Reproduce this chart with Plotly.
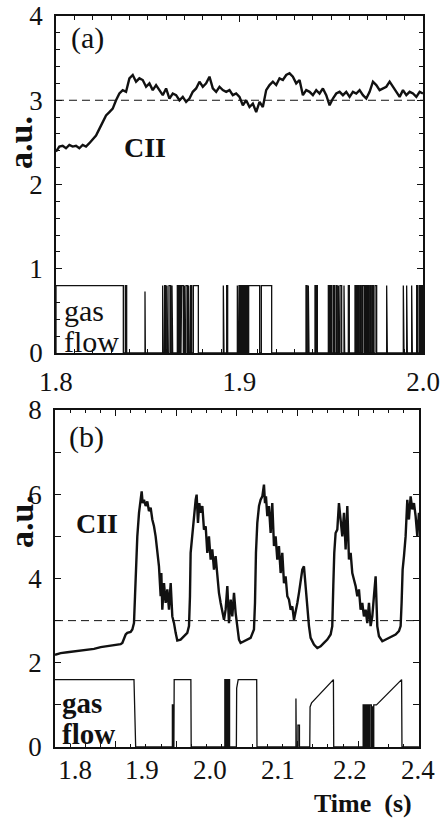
import plotly.graph_objects as go

# ---------------- data ----------------
# Panel (a): CII signal, sampled uniformly from 1.8 s to 2.0 s
cii_a_t0 = 1.8
cii_a_dt = 0.2 / 110
cii_a = [2.39, 2.45, 2.46, 2.43, 2.47, 2.45, 2.46, 2.43, 2.47, 2.45,
         2.49, 2.53, 2.58, 2.66, 2.74, 2.82, 2.86, 2.90, 3.00, 3.08,
         3.12, 3.10, 3.26, 3.30, 3.22, 3.26, 3.24, 3.16, 3.20, 3.12,
         3.18, 3.12, 3.06, 3.14, 3.02, 3.08, 3.06, 3.00, 3.04, 2.98,
         3.02, 3.10, 3.14, 3.22, 3.16, 3.20, 3.28, 3.14, 3.10, 3.16,
         3.12, 3.10, 3.12, 3.06, 3.08, 3.04, 2.94, 3.00, 2.92, 2.96,
         2.86, 2.98, 2.92, 3.12, 3.18, 3.22, 3.18, 3.26, 3.24, 3.30,
         3.32, 3.28, 3.20, 3.24, 3.06, 3.12, 3.10, 3.06, 3.12, 3.08,
         3.14, 3.06, 2.94, 3.02, 3.08, 3.10, 3.06, 3.10, 3.04, 3.10,
         3.08, 3.12, 3.06, 3.02, 3.10, 3.22, 3.18, 3.12, 3.14, 3.16,
         3.22, 3.16, 3.10, 3.04, 3.12, 3.06, 3.10, 3.08, 3.04, 3.10,
         3.08]

# Panel (a): gas valve pulses (start, end, level)
gas_a_start = [1.80000, 1.83778, 1.84850, 1.85813, 1.85922, 1.86049, 1.86158, 1.86322,
               1.86612, 1.86757, 1.86848, 1.86994, 1.87084, 1.87230, 1.87339, 1.87484,
               1.89119, 1.89301, 1.89882, 1.89973, 1.90082, 1.90209, 1.90318, 1.90427,
               1.90500, 1.91190, 1.93624, 1.93751, 1.94114, 1.94205, 1.94841, 1.94968,
               1.95114, 1.95259, 1.95386, 1.95477, 1.95695, 1.95931, 1.96294, 1.96421,
               1.96567, 1.96694, 1.96839, 1.96966, 1.97112, 1.97239, 1.97384, 1.98020,
               1.98928, 1.99110, 1.99382, 1.99655, 1.99800, 1.99927]
gas_a_end = [1.83669, 1.83851, 1.84870, 1.85849, 1.85976, 1.86085, 1.86249, 1.86358,
             1.86685, 1.86812, 1.86939, 1.87030, 1.87175, 1.87266, 1.87393, 1.87757,
             1.89155, 1.89355, 1.89918, 1.90027, 1.90154, 1.90263, 1.90390, 1.90445,
             1.91099, 1.91753, 1.93678, 1.93787, 1.94169, 1.94242, 1.94896, 1.95023,
             1.95168, 1.95313, 1.95422, 1.95568, 1.95731, 1.95985, 1.96349, 1.96494,
             1.96621, 1.96785, 1.96894, 1.97039, 1.97166, 1.97293, 1.97475, 1.98056,
             1.98965, 1.99146, 1.99419, 1.99710, 1.99873, 1.99982]
gas_a_level = [0.8] * 2 + [0.73] + [0.8] * 51

# Panel (b): CII signal (time, value)
cii_b = [(1.8000, 2.19), (1.8093, 2.23), (1.8203, 2.25), (1.8313, 2.27), (1.8423, 2.30),
         (1.8533, 2.31), (1.8643, 2.33), (1.8753, 2.37), (1.8863, 2.39), (1.8973, 2.41),
         (1.9082, 2.44), (1.9110, 2.47), (1.9137, 2.59), (1.9165, 2.67), (1.9192, 2.71),
         (1.9247, 2.73), (1.9275, 2.79), (1.9302, 2.94), (1.9319, 3.58), (1.9335, 4.29),
         (1.9357, 5.00), (1.9385, 5.56), (1.9412, 5.95), (1.9429, 6.07), (1.9445, 5.79),
         (1.9467, 5.87), (1.9495, 5.72), (1.9522, 5.83), (1.9549, 5.60), (1.9577, 5.68),
         (1.9604, 5.40), (1.9632, 5.24), (1.9659, 5.00), (1.9687, 4.61), (1.9714, 4.29),
         (1.9742, 3.58), (1.9753, 4.13), (1.9769, 3.26), (1.9797, 3.89), (1.9824, 3.42),
         (1.9852, 3.74), (1.9879, 3.26), (1.9907, 3.89), (1.9934, 3.10), (1.9962, 2.94),
         (1.9989, 2.71), (2.0016, 2.53), (2.0071, 2.55), (2.0126, 2.63), (2.0181, 2.71),
         (2.0209, 2.87), (2.0225, 3.58), (2.0236, 4.61), (2.0264, 5.08), (2.0291, 5.48),
         (2.0319, 5.87), (2.0335, 5.99), (2.0357, 5.32), (2.0379, 5.79), (2.0401, 5.56),
         (2.0429, 5.72), (2.0456, 5.16), (2.0484, 5.24), (2.0511, 4.61), (2.0538, 5.00),
         (2.0566, 4.45), (2.0593, 4.69), (2.0621, 4.21), (2.0648, 4.53), (2.0676, 3.97),
         (2.0703, 3.66), (2.0731, 3.42), (2.0758, 3.18), (2.0786, 3.02), (2.0813, 3.26),
         (2.0841, 3.82), (2.0868, 2.94), (2.0896, 3.50), (2.0923, 3.10), (2.0951, 3.66),
         (2.0978, 3.18), (2.1005, 2.79), (2.1033, 2.55), (2.1060, 2.47), (2.1115, 2.51),
         (2.1170, 2.55), (2.1225, 2.59), (2.1280, 2.79), (2.1297, 3.42), (2.1313, 4.61),
         (2.1335, 5.32), (2.1363, 5.72), (2.1390, 5.87), (2.1418, 5.95), (2.1445, 6.23),
         (2.1462, 5.79), (2.1478, 5.95), (2.1500, 5.48), (2.1527, 5.72), (2.1555, 5.08),
         (2.1582, 5.79), (2.1610, 4.77), (2.1637, 5.00), (2.1665, 4.45), (2.1692, 4.77),
         (2.1720, 4.13), (2.1747, 4.61), (2.1775, 3.89), (2.1802, 4.05), (2.1830, 3.58),
         (2.1857, 3.50), (2.1885, 3.26), (2.1912, 3.34), (2.1940, 3.02), (2.1967, 3.18),
         (2.1995, 3.42), (2.2022, 3.66), (2.2049, 3.97), (2.2077, 4.21), (2.2104, 4.29),
         (2.2132, 3.74), (2.2159, 3.34), (2.2187, 2.87), (2.2214, 2.59), (2.2269, 2.43),
         (2.2324, 2.35), (2.2379, 2.39), (2.2434, 2.47), (2.2489, 2.55), (2.2544, 2.67),
         (2.2571, 2.87), (2.2588, 3.82), (2.2604, 4.61), (2.2626, 5.08), (2.2654, 5.16),
         (2.2681, 5.79), (2.2709, 5.32), (2.2736, 5.00), (2.2764, 5.56), (2.2791, 4.69),
         (2.2819, 5.72), (2.2846, 4.45), (2.2874, 4.61), (2.2901, 4.13), (2.2929, 3.97),
         (2.2956, 3.82), (2.2984, 3.58), (2.3011, 3.74), (2.3038, 3.26), (2.3066, 3.42),
         (2.3093, 3.10), (2.3121, 3.26), (2.3148, 2.94), (2.3176, 3.42), (2.3203, 2.87),
         (2.3231, 3.10), (2.3258, 3.58), (2.3286, 4.05), (2.3313, 2.87), (2.3341, 2.63),
         (2.3396, 2.51), (2.3451, 2.55), (2.3505, 2.59), (2.3560, 2.63), (2.3615, 2.67),
         (2.3670, 2.75), (2.3698, 2.87), (2.3714, 3.42), (2.3731, 4.21), (2.3753, 4.53),
         (2.3780, 5.00), (2.3808, 5.87), (2.3835, 5.40), (2.3863, 5.95), (2.3890, 5.64),
         (2.3918, 5.79), (2.3945, 5.48), (2.3973, 5.00), (2.4000, 5.56)]

# Panel (b): gas valve signal (time, level)
gas_b = [(1.8000, 1.6), (1.9302, 1.6), (1.9330, 0),
         (1.9935, 0), (1.9935, 1.0), (1.9945, 1.0), (1.9945, 0),
         (1.9960, 0), (1.9965, 1.6), (2.0240, 1.6), (2.0245, 0),
         (2.0800, 0), (2.0800, 1.6), (2.0808, 1.6), (2.0808, 0),
         (2.0820, 0), (2.0820, 1.6), (2.0830, 1.6), (2.0830, 0),
         (2.0845, 0), (2.0845, 1.6), (2.0852, 1.6), (2.0852, 0),
         (2.0868, 0), (2.0868, 1.6), (2.0878, 1.6), (2.0878, 0),
         (2.0990, 0), (2.0995, 1.40), (2.1005, 1.55), (2.1020, 1.6), (2.1325, 1.6), (2.1330, 0),
         (2.1972, 0), (2.1972, 1.15), (2.1978, 1.15), (2.1978, 0),
         (2.2005, 0), (2.2005, 0.52), (2.2030, 0.52), (2.2030, 0),
         (2.2200, 0), (2.2205, 0.95), (2.2230, 1.05), (2.2590, 1.6), (2.2595, 0),
         (2.3080, 0), (2.3080, 1.0), (2.3090, 1.0), (2.3090, 0),
         (2.3105, 0), (2.3105, 1.0), (2.3115, 1.0), (2.3115, 0),
         (2.3130, 0), (2.3130, 1.0), (2.3142, 1.0), (2.3142, 0),
         (2.3160, 0), (2.3160, 1.0), (2.3172, 1.0), (2.3172, 0),
         (2.3190, 0), (2.3190, 1.0), (2.3215, 1.0), (2.3215, 0),
         (2.3228, 0), (2.3228, 0.95), (2.3240, 0.95), (2.3240, 0),
         (2.3255, 0), (2.3255, 1.0), (2.3300, 1.0), (2.3714, 1.6), (2.3720, 0), (2.4000, 0)]

ref_level = 3.0

# panel (b) tick label positions as printed (time units of the tick-mark scale)
b_label_pos = [1.833, 1.9434, 2.0555, 2.1676, 2.2862, 2.3983]
b_label_txt = ["1.8", "1.9", "2.0", "2.1", "2.2", "2.4"]

# ---------------- figure ----------------
SERIF = "Liberation Serif"
BLACK = "#111111"
FIG_W, FIG_H = 445, 819
M_L, M_R, M_T, M_B = 55, 22, 16, 72
PLOT_W = FIG_W - M_L - M_R
PLOT_H = FIG_H - M_T - M_B

fig = go.Figure()

t_a = [cii_a_t0 + i * cii_a_dt for i in range(len(cii_a))]
fig.add_trace(go.Scatter(x=t_a, y=cii_a, mode="lines",
                         line=dict(color=BLACK, width=2.4), xaxis="x", yaxis="y"))

gx, gy = [1.8], [0.0]
for s, e, h in zip(gas_a_start, gas_a_end, gas_a_level):
    gx += [s, s, e, e]
    gy += [0, h, h, 0]
gx.append(2.0)
gy.append(0)
fig.add_trace(go.Scatter(x=gx, y=gy, mode="lines",
                         line=dict(color=BLACK, width=1.3), xaxis="x", yaxis="y"))

fig.add_trace(go.Scatter(x=[p[0] for p in cii_b], y=[p[1] for p in cii_b], mode="lines",
                         line=dict(color=BLACK, width=2.4), xaxis="x2", yaxis="y2"))
fig.add_trace(go.Scatter(x=[p[0] for p in gas_b], y=[p[1] for p in gas_b], mode="lines",
                         line=dict(color=BLACK, width=1.3), xaxis="x2", yaxis="y2"))

for yr in ("y", "y2"):
    fig.add_shape(type="line", xref=("x domain" if yr == "y" else "x2 domain"), yref=yr,
                  x0=0, x1=1, y0=ref_level, y1=ref_level,
                  line=dict(color=BLACK, width=1, dash="8px,5px"), layer="below")

axis_common = dict(showline=True, linewidth=1.5, linecolor=BLACK, mirror="allticks",
                   ticks="inside", tickcolor=BLACK, ticklen=6, tickwidth=1,
                   showgrid=False, zeroline=False, automargin=False,
                   ticklabeloverflow="allow",
                   tickfont=dict(family=SERIF, size=27, color=BLACK))

fig.update_layout(
    width=FIG_W, height=FIG_H,
    margin=dict(l=M_L, r=M_R, t=M_T, b=M_B, autoexpand=False),
    paper_bgcolor="white", plot_bgcolor="white",
    showlegend=False,
    xaxis=dict(axis_common, domain=[0.0027, 1.0], anchor="y", range=[1.8, 2.0],
               tick0=1.8, dtick=0.1, tickformat=".1f", ticklabelstandoff=4,
               minor=dict(dtick=0.01, tick0=1.8, ticklen=4, ticks="inside", tickcolor=BLACK)),
    yaxis=dict(axis_common, domain=[0.539, 1.0], anchor="x", range=[0, 4],
               dtick=1, ticklabelstandoff=6,
               minor=dict(dtick=0.2, ticklen=4, ticks="inside", tickcolor=BLACK)),
    xaxis2=dict(axis_common, domain=[0.0, 0.989], anchor="y2", range=[1.8, 2.4],
                tick0=1.8, dtick=0.1, showticklabels=False,
                minor=dict(dtick=0.025, tick0=1.8, ticklen=3, ticks="inside", tickcolor=BLACK)),
    xaxis3=dict(overlaying="x2", anchor="y2", side="bottom", range=[1.8, 2.4],
                tickmode="array", tickvals=b_label_pos, ticktext=b_label_txt,
                showline=False, ticks="", showgrid=False, zeroline=False,
                ticklabelstandoff=4, automargin=False, ticklabeloverflow="allow",
                tickfont=dict(family=SERIF, size=27, color=BLACK)),
    yaxis2=dict(axis_common, domain=[0.0, 0.461], anchor="x2", range=[0, 8],
                dtick=2, ticklabelstandoff=6,
                minor=dict(dtick=1, ticklen=4, ticks="inside", tickcolor=BLACK)),
)

# invisible trace so the label axis (x3) renders
fig.add_trace(go.Scatter(x=[1.8], y=[0], mode="markers", marker=dict(opacity=0),
                         xaxis="x3", yaxis="y2", hoverinfo="skip"))


def page_x(px):
    return (px - M_L) / PLOT_W


def page_y(py):
    return 1 - (py - M_T) / PLOT_H


ann = [
    dict(text="(a)", x=1.8174, y=3.74, xref="x", yref="y",
         font=dict(family=SERIF, size=30, color=BLACK)),
    dict(text="<b>CII</b>", x=1.8485, y=2.445, xref="x", yref="y",
         font=dict(family=SERIF, size=28, color=BLACK)),
    dict(text="gas", x=1.8033, y=0.50, xref="x", yref="y", xanchor="left",
         font=dict(family=SERIF, size=30, color=BLACK)),
    dict(text="flow", x=1.8033, y=0.14, xref="x", yref="y", xanchor="left",
         font=dict(family=SERIF, size=30, color=BLACK)),
    dict(text="(b)", x=1.8511, y=7.36, xref="x2", yref="y2",
         font=dict(family=SERIF, size=30, color=BLACK)),
    dict(text="<b>CII</b>", x=1.8692, y=5.30, xref="x2", yref="y2",
         font=dict(family=SERIF, size=28, color=BLACK)),
    dict(text="<b>gas</b>", x=1.8082, y=1.05, xref="x2", yref="y2", xanchor="left",
         font=dict(family=SERIF, size=29, color=BLACK)),
    dict(text="<b>flow</b>", x=1.8082, y=0.30, xref="x2", yref="y2", xanchor="left",
         font=dict(family=SERIF, size=29, color=BLACK)),
    dict(text="<b>a.u.</b>", x=page_x(21), y=page_y(143), xref="paper", yref="paper",
         textangle=-90, font=dict(family=SERIF, size=34, color=BLACK)),
    dict(text="<b>a.u.</b>", x=page_x(21), y=page_y(522), xref="paper", yref="paper",
         textangle=-90, font=dict(family=SERIF, size=34, color=BLACK)),
    dict(text="<b>Time  (s)</b>", x=page_x(363), y=page_y(803), xref="paper", yref="paper",
         font=dict(family=SERIF, size=26, color=BLACK)),
]
for a in ann:
    a.setdefault("showarrow", False)
    a.setdefault("xanchor", "center")
    a.setdefault("yanchor", "middle")
fig.update_layout(annotations=ann)

fig.write_html("out.html", config={"displayModeBar": False},
               post_script="document.body.style.margin='0';")
